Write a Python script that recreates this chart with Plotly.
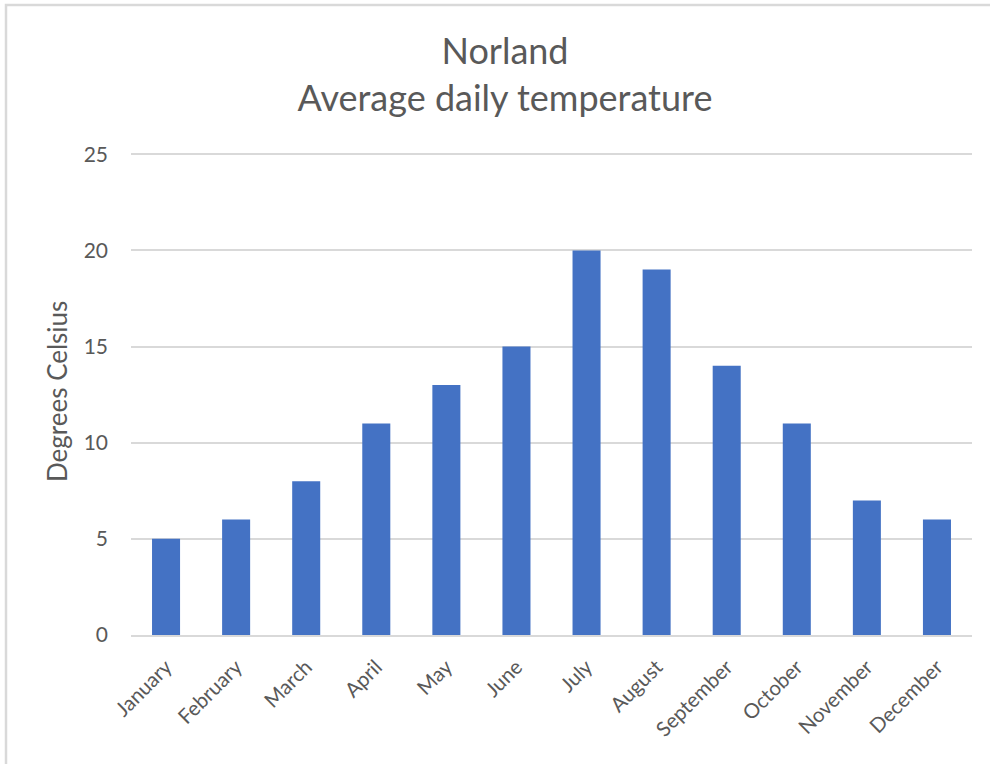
import plotly.graph_objects as go

months = ["January", "February", "March", "April", "May", "June", "July",
          "August", "September", "October", "November", "December"]
temps = [5, 6, 8, 11, 13, 15, 20, 19, 14, 11, 7, 6]
y_ticks = [0, 5, 10, 15, 20, 25]

FONT = "Lato"
GRAY = "#595959"

fig = go.Figure(go.Bar(x=months, y=temps, marker=dict(color="#4472C4", line=dict(width=0))))

W, H = 990, 764
YMAX = 26
unit = (635 - 154) / 25.0
L = 131
R = W - 972
B = H - 635
T = int(round(154 - unit * (YMAX - 25)))
pw, ph = W - L - R, H - T - B

def px(x):
    return (x - L) / pw

def py(y):
    return (H - B - y) / ph

fig.update_layout(
    width=W, height=H,
    margin=dict(l=L, r=R, t=T, b=B),
    paper_bgcolor="white", plot_bgcolor="white",
    bargap=0.6,
    showlegend=False,
    font=dict(family=FONT, color=GRAY),
    title=dict(text="Norland<br>Average daily temperature",
               x=505 / W, xanchor="center", y=1 - 64 / H, yanchor="middle",
               font=dict(size=36, color=GRAY, family=FONT)),
    xaxis=dict(tickangle=-45, tickfont=dict(size=20.5, color=GRAY),
               showgrid=False, showline=True, linecolor="#D9D9D9", linewidth=2,
               ticks="", ticklabelstandoff=10),
    yaxis=dict(range=[0, YMAX], tickvals=y_ticks, tickfont=dict(size=21, color=GRAY),
               showgrid=True, gridcolor="#D9D9D9", gridwidth=1.5,
               zeroline=False, showline=False, ticks="", ticklabelstandoff=22),
    annotations=[dict(text="Degrees Celsius", textangle=-90, showarrow=False,
                      xref="paper", yref="paper", x=px(57), y=py(392),
                      xanchor="center", yanchor="middle",
                      font=dict(size=26, color=GRAY, family=FONT))],
    shapes=[dict(type="rect", xref="paper", yref="paper",
                 x0=px(6), x1=px(1100), y0=py(900), y1=py(5),
                 line=dict(color="#D9D9D9", width=2.5), layer="below")],
)

fig.write_html("out.html", config={"displayModeBar": False},
               post_script="document.body.style.margin='0';document.body.style.padding='0';")
